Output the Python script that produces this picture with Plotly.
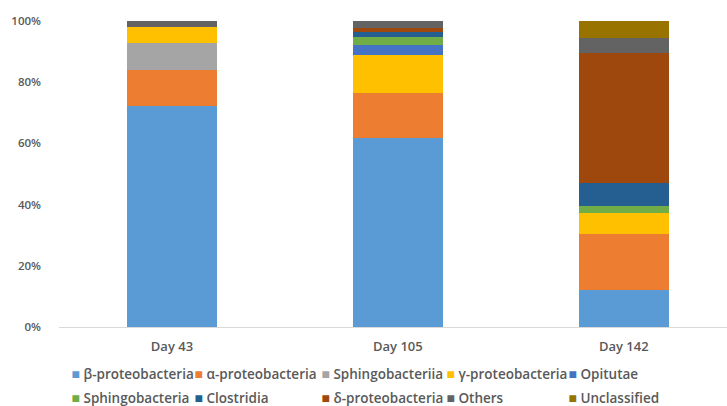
import plotly.graph_objects as go

days = ["Day 43", "Day 105", "Day 142"]

beta_proteobacteria = [72.3, 61.9, 12.1]
alpha_proteobacteria = [11.8, 14.5, 18.4]
sphingobacteriia = [8.7, 0.0, 0.0]
gamma_proteobacteria = [5.3, 12.5, 6.7]
opitutae = [0.0, 3.2, 0.0]
sphingobacteria = [0.0, 2.6, 2.4]
clostridia = [0.0, 1.8, 7.3]
delta_proteobacteria = [0.0, 1.3, 42.6]
others = [1.9, 2.2, 5.0]
unclassified = [0.0, 0.0, 5.5]

series = [
    ("β-proteobacteria", beta_proteobacteria, "#5B9BD5"),
    ("α-proteobacteria", alpha_proteobacteria, "#ED7D31"),
    ("Sphingobacteriia", sphingobacteriia, "#A5A5A5"),
    ("γ-proteobacteria", gamma_proteobacteria, "#FFC000"),
    ("Opitutae", opitutae, "#4472C4"),
    ("Sphingobacteria", sphingobacteria, "#70AD47"),
    ("Clostridia", clostridia, "#255E91"),
    ("δ-proteobacteria", delta_proteobacteria, "#9E480E"),
    ("Others", others, "#636363"),
    ("Unclassified", unclassified, "#997300"),
]

TEXT = "#595959"
FONT = "Open Sans"

# legend laid out as 5 columns x 2 rows, one small legend per column
legend_cols_x = [-0.0412, 0.1429, 0.3330, 0.5202, 0.7028]
n_cols = len(legend_cols_x)
legend_ids = ["legend"] + [f"legend{i}" for i in range(2, n_cols + 1)]

fig = go.Figure()
for name, vals, color in series:
    fig.add_trace(go.Bar(
        name=name, x=days, y=vals, width=0.4, showlegend=False,
        marker=dict(color=color, line=dict(width=0)),
    ))

# legend entries: small coloured square glyph right before each label
for i, (name, vals, color) in enumerate(series):
    label = (
        f'<span style="font-size:13.5px">'
        f'<span style="color:{color};font-size:14px">■</span> {name}</span>'
    )
    fig.add_trace(go.Scatter(
        x=[None], y=[None], mode="markers", name=label,
        marker=dict(size=1, color="rgba(0,0,0,0)"),
        hoverinfo="skip", legend=legend_ids[i % n_cols],
    ))

legend_style = dict(
    orientation="v", y=-0.0937, xanchor="left", yanchor="top",
    itemwidth=30, traceorder="normal",
    font=dict(family=FONT, size=16, color=TEXT, weight=600),
    bgcolor="rgba(0,0,0,0)",
)
legend_layout = {
    lid: dict(x=lx, **legend_style) for lid, lx in zip(legend_ids, legend_cols_x)
}

fig.update_layout(
    barmode="stack",
    width=727, height=406,
    margin=dict(l=59, r=0, t=21, b=79, autoexpand=False),
    paper_bgcolor="white", plot_bgcolor="white",
    font=dict(family=FONT, size=12, color=TEXT),
    showlegend=True,
    xaxis=dict(
        range=[-0.5, 2.457], showgrid=False, showline=True,
        linecolor="#D9D9D9", linewidth=1, ticks="",
        ticklabelstandoff=7,
        tickfont=dict(family=FONT, size=13, color=TEXT, weight=600),
    ),
    yaxis=dict(
        range=[0, 100], tickvals=[0, 20, 40, 60, 80, 100],
        ticktext=["0%", "20%", "40%", "60%", "80%", "100%"],
        showgrid=False, zeroline=False, showline=False, ticks="",
        ticklabelstandoff=17,
        tickfont=dict(family=FONT, size=11.5, color=TEXT, weight=600),
    ),
    **legend_layout,
)

fig.write_html("out.html")
